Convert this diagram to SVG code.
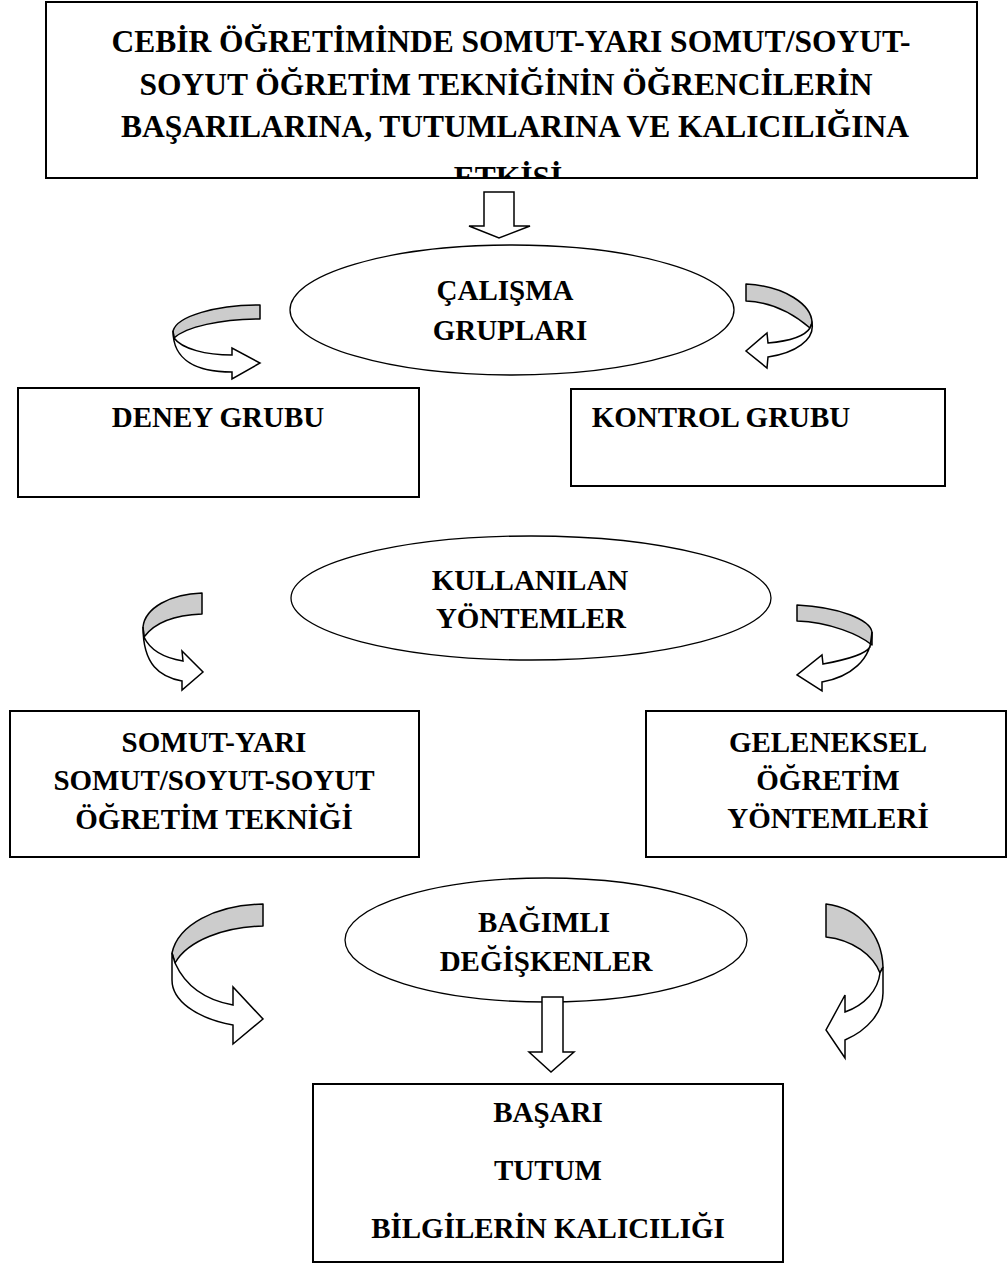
<svg xmlns="http://www.w3.org/2000/svg" width="1008" height="1264" viewBox="0 0 1008 1264">
  <defs>
    <style>
      .box { fill: #fff; stroke: #000; stroke-width: 2; }
      .frame { fill: none; stroke: #000; stroke-width: 2; }
      .oval { fill: #fff; stroke: #000; stroke-width: 1.3; }
      .t { font-family: "Liberation Serif", "Times New Roman", serif; font-weight: bold; font-size: 29px; fill: #000; text-anchor: middle; }
      .title { font-size: 31.5px; }
      .back { fill: #cccccc; stroke: #000; stroke-width: 1.5; stroke-linejoin: round; }
      .front { fill: #fff; stroke: #000; stroke-width: 1.5; stroke-linejoin: miter; }
      .down { fill: #fff; stroke: #000; stroke-width: 1.5; }
    </style>
    <clipPath id="titleClip">
      <rect x="46" y="2" width="931" height="176"/>
    </clipPath>
  </defs>

  <rect width="1008" height="1264" fill="#fff"/>

  <!-- heading box; the last line runs past the bottom edge and is cut off -->
  <g id="title">
    <g clip-path="url(#titleClip)">
      <text class="t title" x="511" y="52">CEBİR ÖĞRETİMİNDE SOMUT-YARI SOMUT/SOYUT-</text>
      <text class="t title" x="506" y="95">SOYUT ÖĞRETİM TEKNİĞİNİN ÖĞRENCİLERİN</text>
      <text class="t title" x="515" y="137">BAŞARILARINA, TUTUMLARINA VE KALICILIĞINA</text>
      <text class="t title" x="508" y="188">ETKİSİ</text>
    </g>
    <rect class="frame" x="46" y="2" width="931" height="176"/>
  </g>

  <g id="calisma-gruplari">
    <ellipse class="oval" cx="512" cy="310" rx="222" ry="65"/>
    <text class="t" x="505" y="300">ÇALIŞMA</text>
    <text class="t" x="510" y="340">GRUPLARI</text>
  </g>

  <g id="deney-grubu">
    <rect class="box" x="18" y="388" width="401" height="109"/>
    <text class="t" x="218" y="427">DENEY GRUBU</text>
  </g>

  <g id="kontrol-grubu">
    <rect class="box" x="571" y="389" width="374" height="97"/>
    <text class="t" x="721" y="427">KONTROL GRUBU</text>
  </g>

  <g id="kullanilan-yontemler">
    <ellipse class="oval" cx="531" cy="598" rx="240" ry="62"/>
    <text class="t" x="530" y="590">KULLANILAN</text>
    <text class="t" x="531" y="628">YÖNTEMLER</text>
  </g>

  <g id="somut-yari-somut">
    <rect class="box" x="10" y="711" width="409" height="146"/>
    <text class="t" x="214" y="752">SOMUT-YARI</text>
    <text class="t" x="214" y="790">SOMUT/SOYUT-SOYUT</text>
    <text class="t" x="214" y="829">ÖĞRETİM TEKNİĞİ</text>
  </g>

  <g id="geleneksel">
    <rect class="box" x="646" y="711" width="360" height="146"/>
    <text class="t" x="828" y="752">GELENEKSEL</text>
    <text class="t" x="828" y="790">ÖĞRETİM</text>
    <text class="t" x="828" y="828">YÖNTEMLERİ</text>
  </g>

  <g id="bagimli-degiskenler">
    <ellipse class="oval" cx="546" cy="940" rx="201" ry="62"/>
    <text class="t" x="544" y="932">BAĞIMLI</text>
    <text class="t" x="546" y="971">DEĞİŞKENLER</text>
  </g>

  <g id="sonuclar">
    <rect class="box" x="313" y="1084" width="470" height="178"/>
    <text class="t" x="548" y="1122">BAŞARI</text>
    <text class="t" x="548" y="1180">TUTUM</text>
    <text class="t" x="548" y="1238">BİLGİLERİN KALICILIĞI</text>
  </g>

  <!-- connectors: block arrows and curled ribbon arrows -->
  <g id="connectors">
    <!-- heading to study groups -->
    <path class="down" d="M484,192 H514 V226 H530 L499,238 L469,226 H484 Z"/>

    <!-- study groups to experiment group -->
    <path class="back" d="M260,305 C216,305 177,316 173,331 L174,338 C186,327 220,319 260,319 Z"/>
    <path class="front" d="M174,338 C182,349 206,355 232,355 L232,348 L260,363 L232,379 L232,372 C198,372 173,361 173,331 Z"/>

    <!-- study groups to control group -->
    <path class="back" d="M746,284 C785,286 812,305 812,323 L810,328 C795,315 775,302 746,301 Z"/>
    <path class="front" d="M810,328 C805,336 790,341 768,343 L767,333 L746,351 L767,368 L768,357 C795,353 815,340 812,323 Z"/>

    <!-- methods to concrete technique -->
    <path class="back" d="M202,593 C170,594 145,608 143,627 L144,637 C155,622 175,615 202,614 Z"/>
    <path class="front" d="M144,637 C150,650 165,658 183,661 L182,651 L203,672 L182,690 L182,681 C160,677 143,665 143,627 Z"/>

    <!-- methods to traditional methods -->
    <path class="back" d="M797,605 C840,607 870,620 872,632 L872,645 C860,635 830,622 797,621 Z"/>
    <path class="front" d="M870,647 C865,655 845,660 823,664 L822,655 L797,675 L822,691 L822,682 C850,677 872,660 872,632 Z"/>

    <!-- concrete technique to dependent variables -->
    <path class="back" d="M263,904 C215,905 178,925 172,953 L175,963 C188,940 225,927 263,926 Z"/>
    <path class="front" d="M175,963 C185,985 205,1000 233,1005 L233,987 L263,1019 L233,1044 L233,1025 C195,1018 172,1000 172,980 L172,953 Z"/>

    <!-- traditional methods to dependent variables -->
    <path class="back" d="M826,904 C860,908 882,935 883,967 L880,973 C873,955 853,940 826,937 Z"/>
    <path class="front" d="M880,973 C878,990 865,1005 845,1012 L845,995 L826,1030 L845,1058 L845,1040 C868,1030 883,1012 883,993 L883,967 Z"/>

    <!-- dependent variables to outcomes -->
    <path class="down" d="M542,997 H563 V1052 H574 L551,1072 L529,1052 H542 Z"/>
  </g>
</svg>
